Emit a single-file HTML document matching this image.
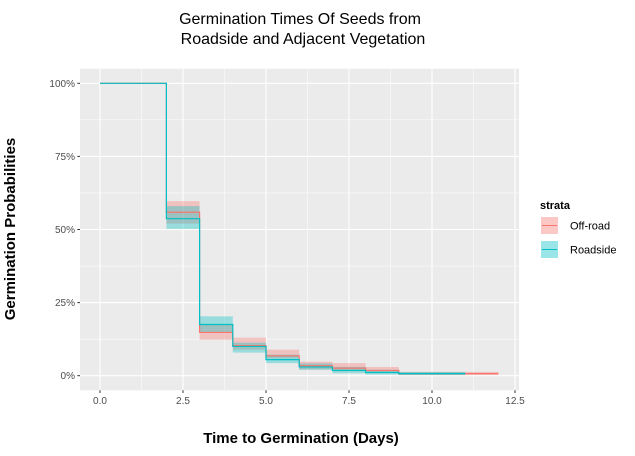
<!DOCTYPE html>
<html><head><meta charset="utf-8"><style>
body{margin:0;background:#fff;font-family:"Liberation Sans",sans-serif}
</style></head><body>
<svg id="chart" width="635" height="451" xmlns="http://www.w3.org/2000/svg" font-family="Liberation Sans, sans-serif">
<text x="300" y="24" text-anchor="middle" font-size="16">Germination Times Of Seeds from</text>
<text x="303" y="44" text-anchor="middle" font-size="16">Roadside and Adjacent Vegetation</text>
<rect x="80" y="68.7" width="439" height="321.6" fill="#ebebeb"/>
<g id="grid"></g><g id="bands"></g><g id="lines"></g><g id="axes"></g>
<text x="301" y="443" text-anchor="middle" font-size="15" font-weight="bold">Time to Germination (Days)</text>
<text transform="translate(15,229) rotate(-90)" text-anchor="middle" font-size="15" font-weight="bold">Germination Probabilities</text>
<g>
<text x="540" y="209" font-size="11" font-weight="bold">strata</text>
<g>
<rect x="541" y="217" width="17" height="17" fill="#f8766d" opacity="0.4"/><line x1="542" x2="557" y1="225.5" y2="225.5" stroke="#f8766d" stroke-width="1"/>
<text x="570" y="229.5" font-size="11">Off-road</text></g>
<g>
<rect x="541" y="241" width="17" height="17" fill="#00bfc4" opacity="0.4"/><line x1="542" x2="557" y1="249.5" y2="249.5" stroke="#00bfc4" stroke-width="1"/>
<text x="570" y="253.5" font-size="11">Roadside</text></g>
</g>
</svg>
<script>
const times = [0, 2, 3, 4, 5, 6, 7, 8, 9, 11, 12];
const offRoadSurv = [1.0, 0.559, 0.148, 0.103, 0.068, 0.034, 0.026, 0.018, 0.007, 0.007];
const offRoadLow = [1.0, 0.52, 0.123, 0.089, 0.06, 0.022, 0.015, 0.009, 0.002, 0.002];
const offRoadHigh = [1.0, 0.597, 0.175, 0.13, 0.089, 0.048, 0.043, 0.03, 0.013, 0.013];
const roadsideTimes = [0, 2, 3, 4, 5, 6, 7, 8, 9, 11];
const roadsideSurv = [1.0, 0.537, 0.175, 0.10, 0.055, 0.03, 0.018, 0.011, 0.007];
const roadsideLow = [1.0, 0.502, 0.147, 0.079, 0.043, 0.02, 0.008, 0.004, 0.002];
const roadsideHigh = [1.0, 0.58, 0.203, 0.113, 0.072, 0.042, 0.03, 0.02, 0.013];
const xTicks = [0, 2.5, 5, 7.5, 10, 12.5];
const xTickLabels = ["0.0", "2.5", "5.0", "7.5", "10.0", "12.5"];
const yTicks = [0, 0.25, 0.5, 0.75, 1];
const yTickLabels = ["0%", "25%", "50%", "75%", "100%"];
const NS = "http://www.w3.org/2000/svg";
const X = v => 100 + v * 33.2;
const Y = v => 375.7 - v * 292.4;
function mk(tag, attrs, parent) {
  const e = document.createElementNS(NS, tag);
  for (const k in attrs) e.setAttribute(k, attrs[k]);
  parent.appendChild(e); return e;
}
const grid = document.getElementById('grid');
const axes = document.getElementById('axes');
for (let i = 0; i < xTicks.length - 1; i++) {
  const m = (xTicks[i] + xTicks[i + 1]) / 2;
  const g = mk('line', {x1: X(m), x2: X(m), y1: 68.7, y2: 390.3, stroke: '#fff', 'stroke-width': 0.5}, grid);
  
  
}
for (let i = 0; i < yTicks.length - 1; i++) {
  const m = (yTicks[i] + yTicks[i + 1]) / 2;
  const g = mk('line', {x1: 80, x2: 519, y1: Y(m), y2: Y(m), stroke: '#fff', 'stroke-width': 0.5}, grid);
  
  
}
xTicks.forEach((t, i) => {
  const g = mk('line', {x1: X(t), x2: X(t), y1: 68.7, y2: 390.3, stroke: '#fff', 'stroke-width': 1.1}, grid);
  
  
  const tk = mk('line', {x1: X(t), x2: X(t), y1: 390.3, y2: 393, stroke: '#333', 'stroke-width': 1}, axes);
  
  
  const lb = mk('text', {x: X(t), y: 404, 'text-anchor': 'middle', 'font-size': 10, fill: '#4d4d4d'}, axes);
  lb.textContent = xTickLabels[i];
  
  
});
yTicks.forEach((t, i) => {
  const g = mk('line', {x1: 80, x2: 519, y1: Y(t), y2: Y(t), stroke: '#fff', 'stroke-width': 1.1}, grid);
  
  
  const tk = mk('line', {x1: 77.3, x2: 80, y1: Y(t), y2: Y(t), stroke: '#333', 'stroke-width': 1}, axes);
  
  
  const lb = mk('text', {x: 75, y: Y(t) + 3.5, 'text-anchor': 'end', 'font-size': 10, fill: '#4d4d4d'}, axes);
  lb.textContent = yTickLabels[i];
  
  
});
function drawSeries(tms, s, lo, hi, color, name) {
  const bands = document.getElementById('bands');
  const lines = document.getElementById('lines');
  for (let i = 0; i < s.length; i++) {
    const r = mk('rect', {x: X(tms[i]), y: Y(hi[i]), width: X(tms[i + 1]) - X(tms[i]), height: Math.max(0.5, Y(lo[i]) - Y(hi[i])), fill: color, opacity: 0.35}, bands);
    
    
  }
  let d = 'M' + X(tms[0]) + ',' + Y(s[0]);
  for (let i = 0; i < s.length; i++) {
    d += ' H' + X(tms[i + 1]);
    if (i + 1 < s.length) d += ' V' + Y(s[i + 1]);
  }
  const p = mk('path', {d: d, fill: 'none', stroke: color, 'stroke-width': 1.2}, lines);
  
  
}
drawSeries(times, offRoadSurv, offRoadLow, offRoadHigh, '#f8766d', 'off-road');
drawSeries(roadsideTimes, roadsideSurv, roadsideLow, roadsideHigh, '#00bfc4', 'roadside');
</script>
</body></html>
